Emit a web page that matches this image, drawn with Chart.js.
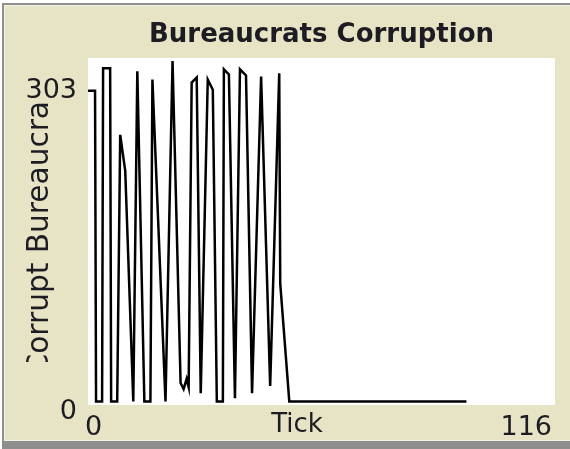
<!DOCTYPE html>
<html><head><meta charset="utf-8">
<script src="https://cdn.jsdelivr.net/npm/chart.js@4/dist/chart.umd.min.js"></script>
<style>html,body{margin:0;padding:0;background:#fff;}#wrap{width:570px;height:449px;}</style>
</head><body><div id="wrap"><canvas id="c" width="570" height="449"></canvas></div>
<script>
// ---- data ----
const chartTitle = 'Bureaucrats Corruption';
const xAxisLabel = 'Tick';
const yAxisLabel = 'Corrupt Bureaucrats';
const xTickLabels = [0, 116];
const yTickLabels = [0, 303];
const tickValues = [0, 1.75, 2, 3.5, 3.75, 5.5, 5.75, 7.25, 8, 9.25, 11.25, 12.25, 14, 15.5, 16, 19.25, 21, 23, 23.75, 24.5, 25, 25.75, 27, 28, 29.75, 31, 32, 33.5, 33.75, 35, 36.5, 37.75, 39.25, 40.75, 43, 45.25, 47.5, 47.75, 50, 94];
const corruptValues = [303, 303, 0, 0, 325, 325, 0, 0, 260, 225, 0, 322, 0, 0, 314, 0, 332, 18, 12, 22, 14, 311, 316, 8, 314, 304, 0, 0, 324, 319, 3, 324, 318, 8, 317, 15, 320, 115, 0, 0];

const FONT = 'DejaVu Sans';
const TEXT = '#1c1c22';
const BEIGE = '#e6e4c5';

const framePlugin = {
  id: 'frame',
  beforeDraw(chart) {
    const ctx = chart.ctx, a = chart.chartArea;
    ctx.save();
    ctx.fillStyle = '#ffffff';
    ctx.fillRect(0, 0, chart.width, chart.height);
    ctx.fillStyle = '#8e8e8e';
    ctx.fillRect(2, 3, chart.width - 2, chart.height - 3);
    ctx.fillStyle = '#f4f3e6';
    ctx.fillRect(4, 5, chart.width - 4, chart.height - 13);
    ctx.fillStyle = BEIGE;
    ctx.fillRect(5, 6, chart.width - 5, chart.height - 15);
    ctx.fillStyle = '#ffffff';
    ctx.fillRect(a.left, a.top, a.right - a.left, a.bottom - a.top);
    ctx.restore();
  },
  afterDraw(chart) {
    const ctx = chart.ctx, a = chart.chartArea;
    ctx.save();
    ctx.fillStyle = TEXT;
    ctx.textAlign = 'center';
    ctx.textBaseline = 'middle';
    ctx.font = 'bold 26px "' + FONT + '"';
    ctx.fillText(chartTitle, (a.left + a.right) / 2, 35);
    ctx.font = '26px "' + FONT + '"';
    ctx.fillText(xAxisLabel, 297, 425);
    // rotated y label, clipped to the space between the tick labels
    const clipTop = 101, clipBottom = 362;
    ctx.font = '100px "' + FONT + '"';
    const wAll = ctx.measureText(yAxisLabel).width;
    const wTail = ctx.measureText(yAxisLabel.slice(-2)).width;
    const wHead = ctx.measureText(yAxisLabel.slice(0, 1)).width;
    const size = 100 * (clipBottom - clipTop) / (wAll - wTail - wHead * 0.6);
    const k = size / 100;
    const startY = clipTop + (wAll - wTail) * k;
    ctx.beginPath();
    ctx.rect(10, clipTop, 60, clipBottom - clipTop);
    ctx.clip();
    ctx.translate(40, startY);
    ctx.rotate(-Math.PI / 2);
    ctx.textAlign = 'left';
    ctx.font = size.toFixed(1) + 'px "' + FONT + '"';
    ctx.fillText(yAxisLabel, 0, 0);
    ctx.restore();
  }
};

new Chart(document.getElementById('c'), {
  type: 'line',
  data: {
    datasets: [{
      data: tickValues.map((t, i) => ({ x: t, y: corruptValues[i] })),
      borderColor: '#000000',
      borderWidth: 2.5,
      pointRadius: 0,
      tension: 0,
      fill: false
    }]
  },
  options: {
    responsive: false,
    animation: false,
    layout: { padding: { top: 58, right: 15, left: 0, bottom: 0 } },
    plugins: { legend: { display: false }, tooltip: { enabled: false } },
    scales: {
      x: {
        type: 'linear', min: 0, max: 116,
        afterBuildTicks(s) { s.ticks = xTickLabels.map(v => ({ value: v })); },
        afterFit(s) { s.height = 44; },
        grid: { display: false }, border: { display: false },
        ticks: { align: 'inner', maxRotation: 0, padding: -1, labelOffset: -3, color: TEXT, font: { family: FONT, size: 27 },
                 callback: v => String(v) }
      },
      y: {
        min: -3.5, max: 335,
        afterBuildTicks(s) { s.ticks = yTickLabels.map(v => ({ value: v })); },
        afterFit(s) { s.width = 88; },
        grid: { display: false, drawTicks: false }, border: { display: false },
        ticks: { padding: 11, color: TEXT, font: { family: FONT, size: 27, lineHeight: 0.8 },
                 callback: v => v === 0 ? ['', '0'] : String(v) }
      }
    }
  },
  plugins: [framePlugin]
});
</script>
</body></html>
